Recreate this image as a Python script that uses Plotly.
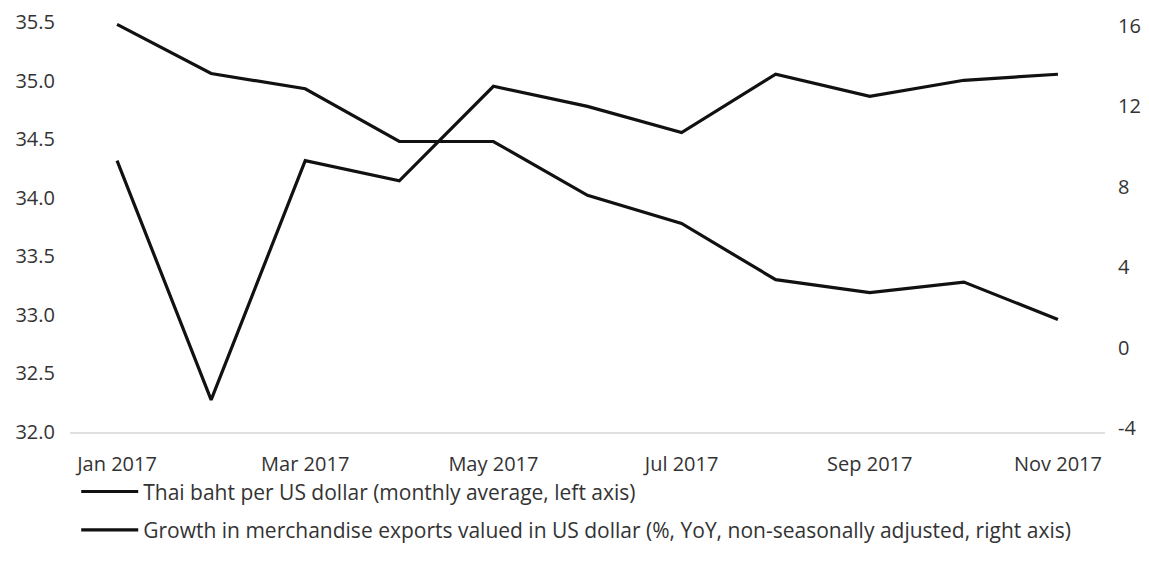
import plotly.graph_objects as go

months = ["Jan 2017", "Feb 2017", "Mar 2017", "Apr 2017", "May 2017", "Jun 2017",
          "Jul 2017", "Aug 2017", "Sep 2017", "Oct 2017", "Nov 2017"]
baht_per_usd = [35.48, 35.06, 34.93, 34.48, 34.48, 34.02, 33.78, 33.30, 33.19, 33.28, 32.96]
export_growth = [9.3, -2.6, 9.3, 8.3, 13.0, 12.0, 10.7, 13.6, 12.5, 13.3, 13.6]

left_ticks = [32.0, 32.5, 33.0, 33.5, 34.0, 34.5, 35.0, 35.5]
right_ticks = [-4, 0, 4, 8, 12, 16]
x_tick_labels = ["Jan 2017", "Mar 2017", "May 2017", "Jul 2017", "Sep 2017", "Nov 2017"]

font_family = "Open Sans, Noto Sans, sans-serif"
text_color = "#333333"

fig = go.Figure()
fig.add_trace(go.Scatter(
    x=months, y=baht_per_usd, mode="lines",
    name="Thai baht per US dollar (monthly average, left axis)",
    legendgroup="a",
    line=dict(color="#111111", width=3.2), yaxis="y"))
fig.add_trace(go.Scatter(
    x=months, y=export_growth, mode="lines",
    name="Growth in merchandise exports valued in US dollar (%, YoY, non-seasonally adjusted, right axis)",
    legendgroup="b",
    line=dict(color="#111111", width=3.2), yaxis="y2"))

fig.update_layout(
    width=1141, height=559,
    margin=dict(l=62, r=44, t=14, b=135, autoexpand=False),
    paper_bgcolor="white", plot_bgcolor="white",
    font=dict(family=font_family, size=20, color=text_color),
    showlegend=True,
    legend=dict(x=0.006, y=-0.096, xanchor="left", yanchor="top",
                orientation="v", font=dict(size=21, color=text_color),
                itemwidth=57, tracegroupgap=8, bgcolor="rgba(0,0,0,0)"),
    xaxis=dict(type="category", categoryorder="array", categoryarray=months,
               range=[-0.5, 10.5], tickmode="array", tickvals=x_tick_labels,
               ticktext=x_tick_labels, showgrid=False, zeroline=False,
               showline=True, linecolor="#e0e0e0", linewidth=2, ticks="",
               automargin=False,
               ticklabelstandoff=13, tickfont=dict(size=20, color=text_color)),
    yaxis=dict(range=[32.0, 35.5], tickmode="array", tickvals=left_ticks,
               ticktext=[f"{v:.1f}" for v in left_ticks], showgrid=False,
               zeroline=False, showline=False, ticks="", ticklabelstandoff=14,
               automargin=False,
               tickfont=dict(size=20, color=text_color)),
    yaxis2=dict(range=[-4.2, 16.2], overlaying="y", side="right", tickmode="array",
                tickvals=right_ticks, ticktext=[str(v) for v in right_ticks],
                showgrid=False, zeroline=False, showline=False, ticks="",
                automargin=False,
                ticklabelstandoff=12, tickfont=dict(size=20, color=text_color)),
)

fig.write_html("out.html")
